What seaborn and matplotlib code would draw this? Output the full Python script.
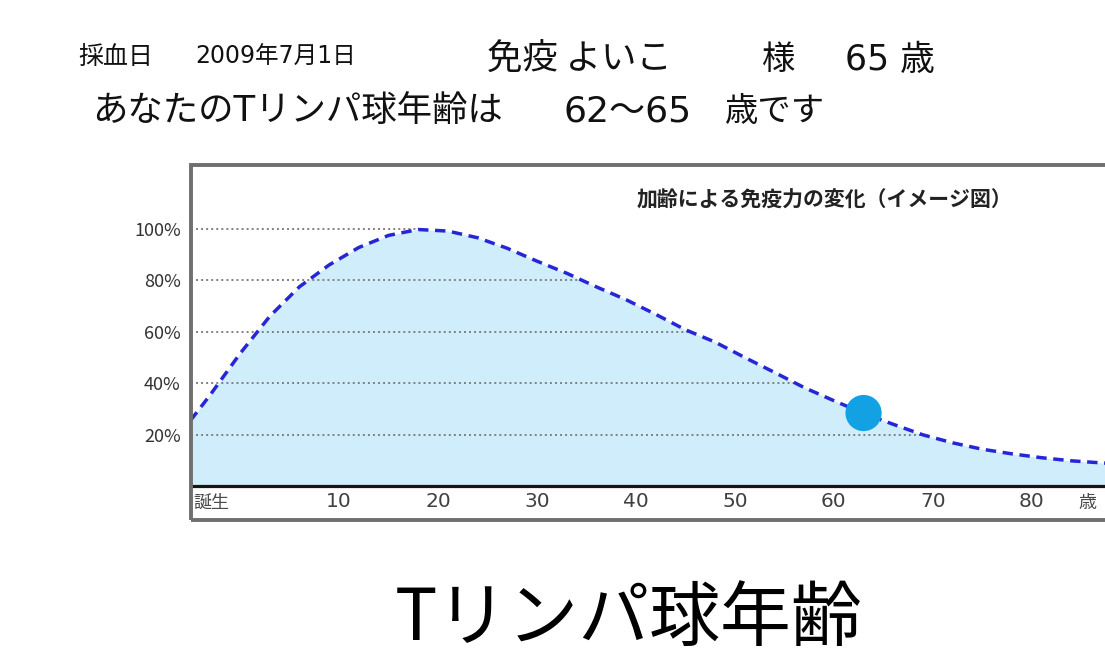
import numpy as np
import matplotlib
matplotlib.use("Agg")
import matplotlib.pyplot as plt
from matplotlib.patches import Rectangle
import seaborn as sns

# Immunity curve by age (schematic), percent of peak
ages = [-5, -3, 0, 3, 6, 9, 12, 15, 18, 21, 24, 27, 30, 33, 36, 39, 42, 45,
        48, 51, 54, 57, 60, 63, 66, 69, 72, 75, 78, 81, 84, 87, 88]
immunity = [25.5, 35.5, 51.5, 66.0, 77.5, 86.0, 92.8, 97.5, 99.8, 99.2, 96.6,
            92.5, 87.5, 82.8, 77.5, 72.5, 66.8, 60.8, 56.0, 50.0, 44.2, 38.3,
            33.2, 28.3, 24.0, 19.9, 16.8, 14.3, 12.5, 11.0, 9.8, 9.0, 8.8]

# Patient's T-lymphocyte age marker
marker_age = [63]
marker_value = [28.4]

tick_ages = [10, 20, 30, 40, 50, 60, 70, 80]
tick_labels = ["10", "20", "30", "40", "50", "60", "70", "80"]
levels = [20, 40, 60, 80, 100]
level_labels = ["20%", "40%", "60%", "80%", "100%"]

sns.set_theme(style="white")
plt.rcParams["font.family"] = ["Noto Sans CJK JP", "DejaVu Sans"]
LATIN_FIRST = ["DejaVu Sans", "Noto Sans CJK JP"]

W, H = 1105, 656
fig = plt.figure(figsize=(W / 100, H / 100), dpi=100)
fig.patch.set_facecolor("white")

# axes box in pixels: left 190.5, right 1111, top 165, bottom 520
x_left, x_right, y_top, y_bot = 190.5, 1111, 165, 520
ax = fig.add_axes([x_left / W, 1 - y_bot / H, (x_right - x_left) / W, (y_bot - y_top) / H])
ax.set_facecolor("white")
ax.set_xlim(-5, 88)
ax.set_ylim((486 - 520) / 2.57, (486 - 165) / 2.57)

fill_color = "#cfedfa"
line_color = "#2626d6"

ax.fill_between(ages, immunity, 0, color=fill_color, lw=0, zorder=1)

# dotted guide lines run from the left edge to where the falling curve crosses them
a = np.array(ages)
v = np.array(immunity)
peak = int(np.argmax(v))
desc_a, desc_v = a[peak:], v[peak:]
for lev in levels:
    xr = np.interp(lev, desc_v[::-1], desc_a[::-1])
    ax.hlines(lev, -4.9, xr, colors="#808080", linestyles=(0, (1, 1.6)), lw=1.4, zorder=2)

sns.lineplot(x=ages, y=immunity, ax=ax, color=line_color, lw=2.5,
             linestyle=(0, (3.0, 1.9)), sort=False, zorder=4)
sns.scatterplot(x=marker_age, y=marker_value, ax=ax, s=680, color="#12a2e4",
                edgecolor="none", zorder=5)

# frame and baseline
for side in ["left", "right", "top"]:
    ax.spines[side].set_visible(False)
ax.spines["bottom"].set_position(("data", 0))
ax.spines["bottom"].set_color("#151515")
ax.spines["bottom"].set_linewidth(2.3)
ax.spines["bottom"].set_zorder(6)
ax.add_patch(Rectangle((0, 0), 1, 1, transform=ax.transAxes, fill=False,
                       ec="#6f6f6f", lw=2.8, clip_on=False, zorder=7))

ax.set_xticks(tick_ages)
ax.set_xticklabels(tick_labels, family=LATIN_FIRST)
ax.tick_params(axis="x", direction="in", length=9, width=1.9, color="#151515",
               pad=4, labelsize=14.5, labelcolor="#404040", bottom=True)
ax.set_yticks(levels)
ax.set_yticklabels(level_labels)
ax.tick_params(axis="y", length=0, pad=7, labelsize=13, labelcolor="#333333")
ax.set_xlabel("")
ax.set_ylabel("")
ax.grid(False)

ax.text(-4.7, -6.6, "誕生", ha="left", va="center", fontsize=13, color="#4a4a4a")
ax.text(85.6, -6.6, "歳", ha="center", va="center", fontsize=13, color="#4a4a4a")


def ftext(x, y, s, size, **kw):
    fig.text(x / W, 1 - y / H, s, fontsize=size, ha=kw.pop("ha", "left"),
             va="center", color=kw.pop("color", "#111111"), **kw)


ftext(637, 200, "加齢による免疫力の変化（イメージ図）", 15, fontweight="bold",
      color="#222222")
ftext(78, 57, "採血日", 18)
ftext(195, 57, "2009年7月1日", 17, family=LATIN_FIRST)
ftext(487, 60, "免疫 よいこ", 25.5)
ftext(762, 60, "様", 24)
ftext(845, 60, "65 歳", 25, family=LATIN_FIRST)
ftext(92, 112, "あなたのTリンパ球年齢は", 25.5, family=LATIN_FIRST)
ftext(563, 112, "62〜65", 26, family=LATIN_FIRST)
ftext(725, 112, "歳です", 24)
ftext(629, 619, "Tリンパ球年齢", 51, ha="center", color="#000000")

fig.savefig("out.png", dpi=100, facecolor="white")
